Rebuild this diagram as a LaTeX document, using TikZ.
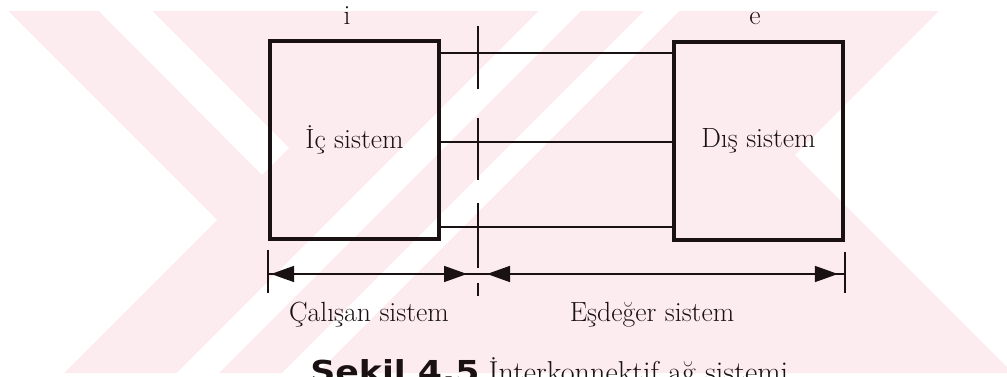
\documentclass[tikz,border=0pt]{standalone}
\usepackage{fontspec}
\newfontfamily\capfont{DejaVu Sans}[FakeStretch=1.15]
\usetikzlibrary{positioning,arrows.meta,calc}
\definecolor{wmpink}{HTML}{FDECEF}
\definecolor{inkblack}{HTML}{1A1212}

\begin{document}
\begin{tikzpicture}[x=0.02cm, y=-0.02cm,
      every node/.style={font=\fontsize{15.8}{19}\selectfont, text=inkblack},
      sysbox/.style={draw=inkblack, line width=2.2pt, minimum width=3.38cm,
            minimum height=3.96cm, inner sep=0pt},
      wire/.style={draw=inkblack, line width=1.1pt},
      cutline/.style={draw=inkblack, line width=1.1pt},
      dimline/.style={draw=inkblack, line width=0.9pt},
      dimarrow/.style={dimline,
            {Triangle[length=0.46cm,width=0.32cm]}-{Triangle[length=0.46cm,width=0.32cm]}}]
      \path[use as bounding box] (0,0) rectangle (1007,377);
      \clip (0,0) rectangle (1007,377);
      % background mark
      \fill[wmpink] (0,11) rectangle (1007,373);
      \fill[white] (0,11) -- (8,11) -- (217,220) -- (64,373) -- (0,373) -- cycle;
      \fill[white] (99,11) -- (152,11) -- (289,148) -- (262,175) -- cycle;
      \fill[white] (539,11) -- (581,11) -- (219,373) -- (177,373) -- cycle;
      \fill[white] (644,11) -- (679,11) -- (317,373) -- (282,373) -- cycle;
      \fill[white] (939,11) -- (1007,11) -- (1007,367) -- (795,155) -- cycle;
      % systems
      \node[sysbox] (ic) at (354.5,140) {İç sistem};
      \node[sysbox] (dis) at (758.5,141) {Dış sistem};
      \node[anchor=base] (il) at (347,25) {i};
      \node[anchor=base] (el) at (755,25) {e};
      % links between the two
      \draw[wire] (ic.east |- 0,53) -- (dis.west |- 0,53);
      \draw[wire] (ic.east |- 0,142) -- (dis.west |- 0,142);
      \draw[wire] (ic.east |- 0,227) -- (dis.west |- 0,227);
      % cut line
      \coordinate (cut) at (478,274);
      \foreach \a/\b in {26/89, 118/180, 203/268, 283/296}
            \draw[cutline] (cut |- 0,\a) -- (cut |- 0,\b);
      % dimensions
      \coordinate (dl) at (ic.south west |- cut);
      \coordinate (dr) at (dis.south east |- cut);
      \draw[cutline] (dl |- 0,250) -- (dl |- 0,293);
      \draw[cutline] (dr |- 0,252) -- (dr |- 0,293);
      \draw[dimline] (dl) -- (dr);
      \draw[dimarrow, shorten <=0.06cm, shorten >=0.22cm] (dl) -- (cut);
      \draw[dimarrow, shorten <=0.18cm, shorten >=0.14cm] (cut) -- (dr);
      \node[anchor=base] (cal) at (369,322) {Çalışan sistem};
      \node[anchor=base] (esd) at (652,322) {Eşdeğer sistem};
      % caption
      \node[anchor=base west, inner sep=0pt, font=\fontsize{17.2}{20}\selectfont]
            (cap) at (310,383) {{\capfont\bfseries Şekil 4.5} İnterkonnektif ağ sistemi};
\end{tikzpicture}
\end{document}
